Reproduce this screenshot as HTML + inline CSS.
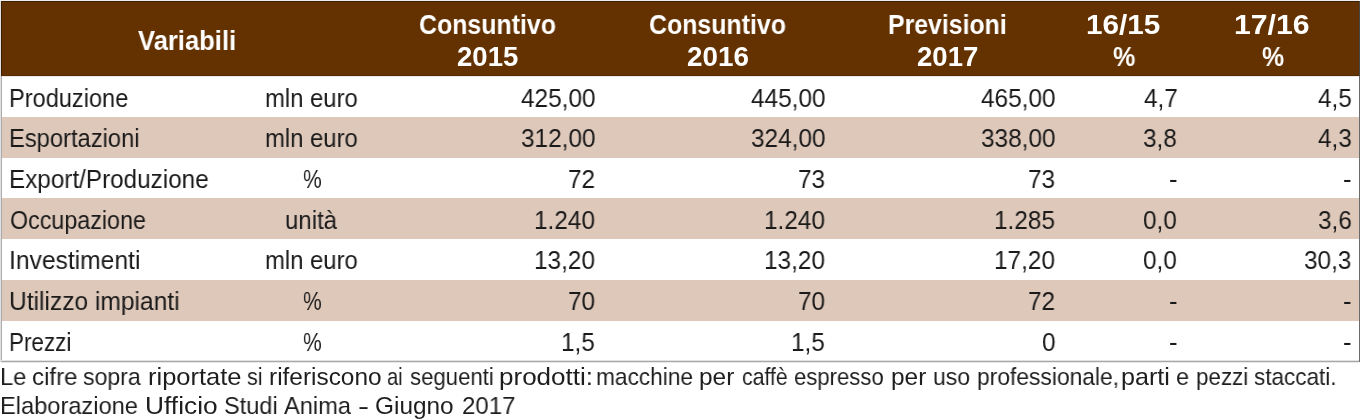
<!DOCTYPE html>
<html lang="it"><head><meta charset="utf-8"><title>Macchine per caffè espresso - dati di settore</title>
<style>
html,body{margin:0;padding:0;background:#fff;width:1360px;height:420px;overflow:hidden}
body{position:relative}
.band,.ln{position:absolute}
.band{left:2px;width:1357px}
.hd{position:absolute;left:1px;top:1px;width:1358px;height:75px;background:#633200;box-sizing:border-box;border-top:1px solid #3f1e00;border-left:1px solid #3f1e00;border-bottom:1px solid #572900}
table{position:absolute;left:0;top:0;border-collapse:collapse;border-spacing:0}
th,td{padding:0;margin:0;border:0;font-weight:normal}
.t{position:absolute;display:block;white-space:pre;will-change:transform;transform-origin:0 0;font-family:"Liberation Sans",Arial,sans-serif}
.h{font-weight:bold;font-size:27.2px;line-height:27.2px;color:#fff}
.d{font-size:25.8px;line-height:25.8px;color:#1a1a1a}
.f{font-size:24.4px;line-height:24.4px;color:#1e1e1e}
.note{margin:0}
</style></head><body>
<div class="band" style="top:76px;height:41px;background:#fff"></div>
<div class="band" style="top:117px;height:41px;background:#dec8ba"></div>
<div class="band" style="top:158px;height:40px;background:#fff"></div>
<div class="band" style="top:198px;height:41px;background:#dec8ba"></div>
<div class="band" style="top:239px;height:41px;background:#fff"></div>
<div class="band" style="top:280px;height:41px;background:#dec8ba"></div>
<div class="band" style="top:321px;height:40px;background:#fff"></div>
<div class="hd"></div>
<div class="ln" style="left:0;top:0;width:1359px;height:1px;background:#eeeef0"></div>
<div class="ln" style="left:0;top:1px;width:1px;height:361px;background:#e0e0e0"></div>
<div class="ln" style="left:1px;top:76px;width:1px;height:285px;background:#acacac"></div>
<div class="ln" style="left:2px;top:76px;width:1357px;height:1px;background:#ebe8e8"></div>
<div class="ln" style="left:1359px;top:1px;width:1px;height:75px;background:#4a4643"></div>
<div class="ln" style="left:1359px;top:76px;width:1px;height:286px;background:#6b6b6b"></div>
<div class="ln" style="left:1px;top:360px;width:1358px;height:1px;background:#e2e2e2"></div>
<div class="ln" style="left:1px;top:361px;width:1358px;height:1px;background:#a8a8a8"></div>
<div class="ln" style="left:1px;top:362px;width:1358px;height:1px;background:#e8e8e8"></div>
<table>
<thead><tr><th colspan="2"><span class="t h" style="left:138.11px;top:26.88px;transform:scaleX(0.9413)">Variabili</span></th><th><span class="t h" style="left:419.29px;top:10.68px;transform:scaleX(0.9159)">Consuntivo</span><br><span class="t h" style="left:457.04px;top:42.68px;transform:scaleX(1.0136)">2015</span></th><th><span class="t h" style="left:649.29px;top:10.68px;transform:scaleX(0.9159)">Consuntivo</span><br><span class="t h" style="left:686.83px;top:42.68px;transform:scaleX(1.0239)">2016</span></th><th><span class="t h" style="left:888.01px;top:10.68px;transform:scaleX(0.9129)">Previsioni</span><br><span class="t h" style="left:916.74px;top:42.68px;transform:scaleX(1.0137)">2017</span></th><th><span class="t h" style="left:1086.29px;top:10.68px;transform:scaleX(1.0930)">16/15</span><br><span class="t h" style="left:1112.85px;top:42.68px;transform:scaleX(0.9231)">%</span></th><th><span class="t h" style="left:1234.36px;top:10.68px;transform:scaleX(1.1116)">17/16</span><br><span class="t h" style="left:1261.56px;top:42.68px;transform:scaleX(0.9143)">%</span></th></tr></thead>
<tbody>
<tr><td><span class="t d" style="left:8.88px;top:86.00px;transform:scaleX(0.9139)">Produzione</span></td><td><span class="t d" style="left:265.23px;top:86.00px;transform:scaleX(0.9242)">mln euro</span></td><td><span class="t d" style="left:520.58px;top:86.00px;transform:scaleX(0.9450)">425,00</span></td><td><span class="t d" style="left:750.58px;top:86.00px;transform:scaleX(0.9450)">445,00</span></td><td><span class="t d" style="left:980.58px;top:86.00px;transform:scaleX(0.9450)">465,00</span></td><td><span class="t d" style="left:1143.65px;top:86.00px;transform:scaleX(0.9450)">4,7</span></td><td><span class="t d" style="left:1317.56px;top:86.00px;transform:scaleX(0.9450)">4,5</span></td></tr>
<tr><td><span class="t d" style="left:8.87px;top:126.00px;transform:scaleX(0.9193)">Esportazioni</span></td><td><span class="t d" style="left:265.23px;top:126.00px;transform:scaleX(0.9242)">mln euro</span></td><td><span class="t d" style="left:520.58px;top:126.00px;transform:scaleX(0.9450)">312,00</span></td><td><span class="t d" style="left:750.58px;top:126.00px;transform:scaleX(0.9450)">324,00</span></td><td><span class="t d" style="left:980.58px;top:126.00px;transform:scaleX(0.9450)">338,00</span></td><td><span class="t d" style="left:1143.46px;top:126.00px;transform:scaleX(0.9450)">3,8</span></td><td><span class="t d" style="left:1317.61px;top:126.00px;transform:scaleX(0.9450)">4,3</span></td></tr>
<tr><td><span class="t d" style="left:8.82px;top:167.00px;transform:scaleX(0.9407)">Export/Produzione</span></td><td><span class="t d" style="left:302.57px;top:167.00px;transform:scaleX(0.8152)">%</span></td><td><span class="t d" style="left:568.31px;top:167.00px;transform:scaleX(0.9450)">72</span></td><td><span class="t d" style="left:798.17px;top:167.00px;transform:scaleX(0.9450)">73</span></td><td><span class="t d" style="left:1028.17px;top:167.00px;transform:scaleX(0.9450)">73</span></td><td><span class="t d" style="left:1169.26px;top:167.00px;transform:scaleX(0.9450)">-</span></td><td><span class="t d" style="left:1343.36px;top:167.00px;transform:scaleX(0.9450)">-</span></td></tr>
<tr><td><span class="t d" style="left:9.72px;top:208.00px;transform:scaleX(0.9025)">Occupazione</span></td><td><span class="t d" style="left:284.67px;top:208.00px;transform:scaleX(0.9309)">unità</span></td><td><span class="t d" style="left:534.15px;top:208.00px;transform:scaleX(0.9450)">1.240</span></td><td><span class="t d" style="left:764.15px;top:208.00px;transform:scaleX(0.9450)">1.240</span></td><td><span class="t d" style="left:994.24px;top:208.00px;transform:scaleX(0.9450)">1.285</span></td><td><span class="t d" style="left:1143.37px;top:208.00px;transform:scaleX(0.9450)">0,0</span></td><td><span class="t d" style="left:1317.61px;top:208.00px;transform:scaleX(0.9450)">3,6</span></td></tr>
<tr><td><span class="t d" style="left:8.51px;top:248.00px;transform:scaleX(0.9543)">Investimenti</span></td><td><span class="t d" style="left:265.23px;top:248.00px;transform:scaleX(0.9242)">mln euro</span></td><td><span class="t d" style="left:534.15px;top:248.00px;transform:scaleX(0.9450)">13,20</span></td><td><span class="t d" style="left:764.15px;top:248.00px;transform:scaleX(0.9450)">13,20</span></td><td><span class="t d" style="left:994.15px;top:248.00px;transform:scaleX(0.9450)">17,20</span></td><td><span class="t d" style="left:1143.37px;top:248.00px;transform:scaleX(0.9450)">0,0</span></td><td><span class="t d" style="left:1304.05px;top:248.00px;transform:scaleX(0.9450)">30,3</span></td></tr>
<tr><td><span class="t d" style="left:8.90px;top:289.00px;transform:scaleX(0.9521)">Utilizzo impianti</span></td><td><span class="t d" style="left:302.57px;top:289.00px;transform:scaleX(0.8152)">%</span></td><td><span class="t d" style="left:568.02px;top:289.00px;transform:scaleX(0.9450)">70</span></td><td><span class="t d" style="left:798.02px;top:289.00px;transform:scaleX(0.9450)">70</span></td><td><span class="t d" style="left:1028.31px;top:289.00px;transform:scaleX(0.9450)">72</span></td><td><span class="t d" style="left:1169.26px;top:289.00px;transform:scaleX(0.9450)">-</span></td><td><span class="t d" style="left:1343.36px;top:289.00px;transform:scaleX(0.9450)">-</span></td></tr>
<tr><td><span class="t d" style="left:8.97px;top:330.00px;transform:scaleX(0.8696)">Prezzi</span></td><td><span class="t d" style="left:302.57px;top:330.00px;transform:scaleX(0.8152)">%</span></td><td><span class="t d" style="left:561.36px;top:330.00px;transform:scaleX(0.9450)">1,5</span></td><td><span class="t d" style="left:791.36px;top:330.00px;transform:scaleX(0.9450)">1,5</span></td><td><span class="t d" style="left:1041.58px;top:330.00px;transform:scaleX(0.9450)">0</span></td><td><span class="t d" style="left:1169.26px;top:330.00px;transform:scaleX(0.9450)">-</span></td><td><span class="t d" style="left:1343.36px;top:330.00px;transform:scaleX(0.9450)">-</span></td></tr>
</tbody>
</table>
<p class="note"><span class="t f" style="left:0.05px;top:364.75px;transform:scaleX(0.9730)">Le </span><span class="t f" style="left:31.96px;top:364.75px;transform:scaleX(0.9864)">cifre </span><span class="t f" style="left:83.04px;top:364.75px;transform:scaleX(0.9453)">sopra </span><span class="t f" style="left:147.63px;top:364.75px;transform:scaleX(1.0455)">riportate </span><span class="t f" style="left:247.28px;top:364.75px;transform:scaleX(0.8824)">si </span><span class="t f" style="left:268.80px;top:364.75px;transform:scaleX(1.0005)">riferiscono </span><span class="t f" style="left:386.83px;top:364.75px;transform:scaleX(0.8282)">ai </span><span class="t f" style="left:410.36px;top:364.75px;transform:scaleX(0.9083)">seguenti </span><span class="t f" style="left:499.39px;top:364.75px;transform:scaleX(1.0670)">prodotti: </span><span class="t f" style="left:596.21px;top:364.75px;transform:scaleX(0.9297)">macchine </span><span class="t f" style="left:699.20px;top:364.75px;transform:scaleX(1.0015)">per </span><span class="t f" style="left:742.18px;top:364.75px;transform:scaleX(0.8719)">caffè </span><span class="t f" style="left:794.35px;top:364.75px;transform:scaleX(0.9056)">espresso </span><span class="t f" style="left:890.81px;top:364.75px;transform:scaleX(0.9925)">per </span><span class="t f" style="left:933.19px;top:364.75px;transform:scaleX(0.9428)">uso </span><span class="t f" style="left:977.00px;top:364.75px;transform:scaleX(0.9355)">professionale, </span><span class="t f" style="left:1121.45px;top:364.75px;transform:scaleX(1.0305)">parti </span><span class="t f" style="left:1176.19px;top:364.75px;transform:scaleX(0.9607)">e </span><span class="t f" style="left:1195.63px;top:364.75px;transform:scaleX(0.9172)">pezzi </span><span class="t f" style="left:1254.15px;top:364.75px;transform:scaleX(0.9220)">staccati.</span><br><span class="t f" style="left:0.46px;top:394.35px;transform:scaleX(0.9688)">Elaborazione </span><span class="t f" style="left:144.85px;top:394.35px;transform:scaleX(1.0784)">Ufficio </span><span class="t f" style="left:224.34px;top:394.35px;transform:scaleX(0.9660)">Studi </span><span class="t f" style="left:284.35px;top:394.35px;transform:scaleX(0.9696)">Anima </span><span class="t f" style="left:357.80px;top:394.35px;transform:scaleX(1.3613)">- </span><span class="t f" style="left:375.15px;top:394.35px;transform:scaleX(0.9974)">Giugno </span><span class="t f" style="left:461.87px;top:394.35px;transform:scaleX(0.9846)">2017</span></p>
</body></html>
